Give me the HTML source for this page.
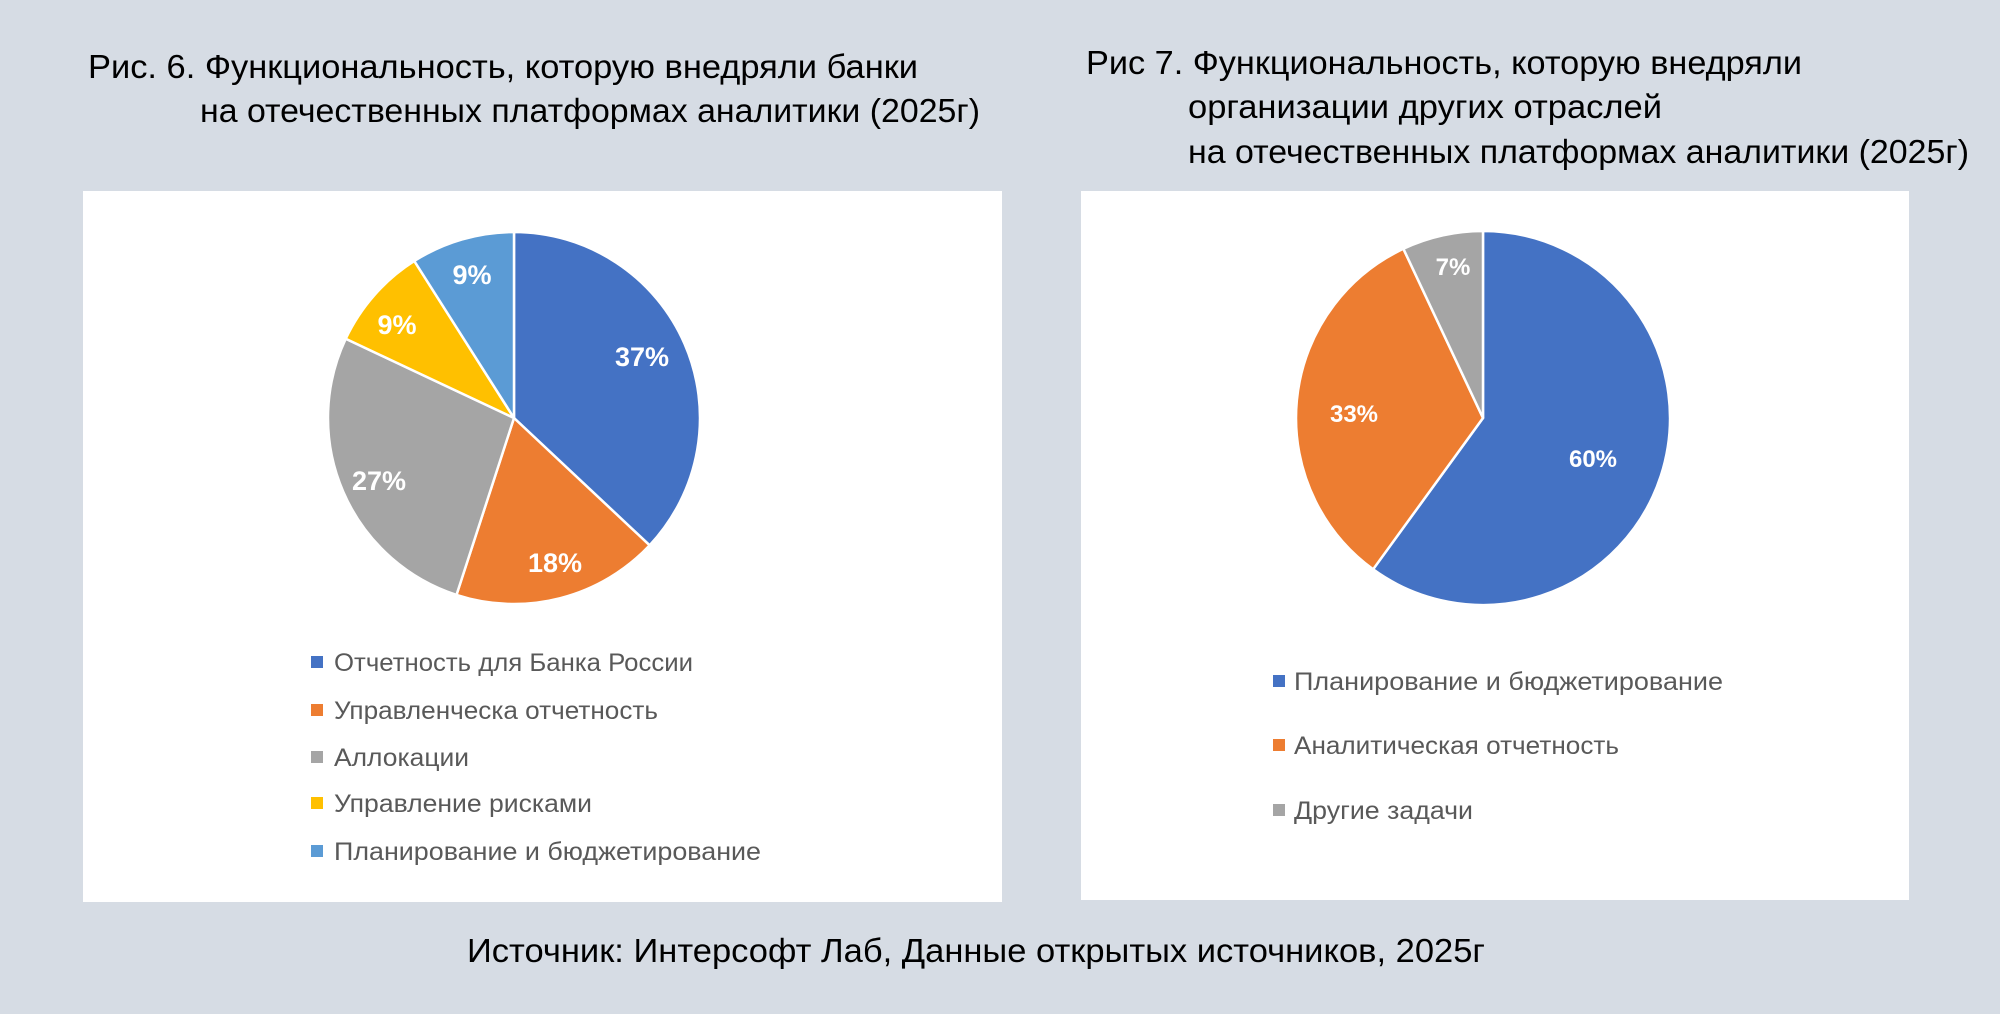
<!DOCTYPE html>
<html><head><meta charset="utf-8"><style>
html,body{margin:0;padding:0;background:#d6dce4;}
svg{display:block;}
</style></head><body>
<svg width="2000" height="1014" xmlns="http://www.w3.org/2000/svg" font-family="'Liberation Sans', 'DejaVu Sans', sans-serif">
<rect width="2000" height="1014" fill="#d6dce4"/>
<g font-size="33" fill="#000">
<text x="88" y="78" textLength="830" lengthAdjust="spacingAndGlyphs">Рис. 6. Функциональность, которую внедряли банки</text>
<text x="200" y="122" textLength="780" lengthAdjust="spacingAndGlyphs">на отечественных платформах аналитики (2025г)</text>
<text x="1086" y="74" textLength="716" lengthAdjust="spacingAndGlyphs">Рис 7. Функциональность, которую внедряли</text>
<text x="1188" y="118" textLength="474" lengthAdjust="spacingAndGlyphs">организации других отраслей</text>
<text x="1188" y="163" textLength="781" lengthAdjust="spacingAndGlyphs">на отечественных платформах аналитики (2025г)</text>
<text x="467" y="962" textLength="1018" lengthAdjust="spacingAndGlyphs">Источник: Интерсофт Лаб,  Данные открытых источников, 2025г</text>
</g>
<rect x="83" y="191" width="919" height="711" fill="#fff"/>
<rect x="1081" y="191" width="828" height="709" fill="#fff"/>
<g stroke="#fff" stroke-width="2.5" stroke-linejoin="round">
<path d="M514,418 L514,232 A186,186 0 0 1 649.6,545.3 Z" fill="#4472c4"/>
<path d="M514,418 L649.6,545.3 A186,186 0 0 1 456.5,594.9 Z" fill="#ed7d31"/>
<path d="M514,418 L456.5,594.9 A186,186 0 0 1 345.7,338.8 Z" fill="#a5a5a5"/>
<path d="M514,418 L345.7,338.8 A186,186 0 0 1 414.3,261 Z" fill="#ffc000"/>
<path d="M514,418 L414.3,261 A186,186 0 0 1 514,232 Z" fill="#5b9bd5"/>
<path d="M1483,418 L1483,231 A187,187 0 1 1 1373.1,569.3 Z" fill="#4472c4"/>
<path d="M1483,418 L1373.1,569.3 A187,187 0 0 1 1403.4,248.8 Z" fill="#ed7d31"/>
<path d="M1483,418 L1403.4,248.8 A187,187 0 0 1 1483,231 Z" fill="#a5a5a5"/>
</g>
<g font-size="27" font-weight="bold" fill="#fff" text-anchor="middle">
<text x="642" y="366">37%</text>
<text x="555" y="572">18%</text>
<text x="379" y="490">27%</text>
<text x="397" y="334">9%</text>
<text x="472" y="284">9%</text>
<text x="1593" y="467" font-size="24">60%</text>
<text x="1354" y="422" font-size="24">33%</text>
<text x="1453" y="275" font-size="24">7%</text>
</g>
<g font-size="25" fill="#595959" lengthAdjust="spacingAndGlyphs">
<rect x="311" y="656" width="12" height="12" fill="#4472c4"/><text x="334" y="671" textLength="359" lengthAdjust="spacingAndGlyphs">Отчетность для Банка России</text>
<rect x="311" y="704" width="12" height="12" fill="#ed7d31"/><text x="334" y="719" textLength="324" lengthAdjust="spacingAndGlyphs">Управленческа отчетность</text>
<rect x="311" y="751" width="12" height="12" fill="#a5a5a5"/><text x="334" y="766" textLength="135" lengthAdjust="spacingAndGlyphs">Аллокации</text>
<rect x="311" y="797" width="12" height="12" fill="#ffc000"/><text x="334" y="812" textLength="258" lengthAdjust="spacingAndGlyphs">Управление рисками</text>
<rect x="311" y="845" width="12" height="12" fill="#5b9bd5"/><text x="334" y="860" textLength="427" lengthAdjust="spacingAndGlyphs">Планирование и бюджетирование</text>
<rect x="1273" y="675" width="12" height="12" fill="#4472c4"/><text x="1294" y="690" textLength="429" lengthAdjust="spacingAndGlyphs">Планирование и бюджетирование</text>
<rect x="1273" y="739" width="12" height="12" fill="#ed7d31"/><text x="1294" y="754" textLength="325" lengthAdjust="spacingAndGlyphs">Аналитическая отчетность</text>
<rect x="1273" y="804" width="12" height="12" fill="#a5a5a5"/><text x="1294" y="819" textLength="179" lengthAdjust="spacingAndGlyphs">Другие задачи</text>
</g>
</svg>
</body></html>
